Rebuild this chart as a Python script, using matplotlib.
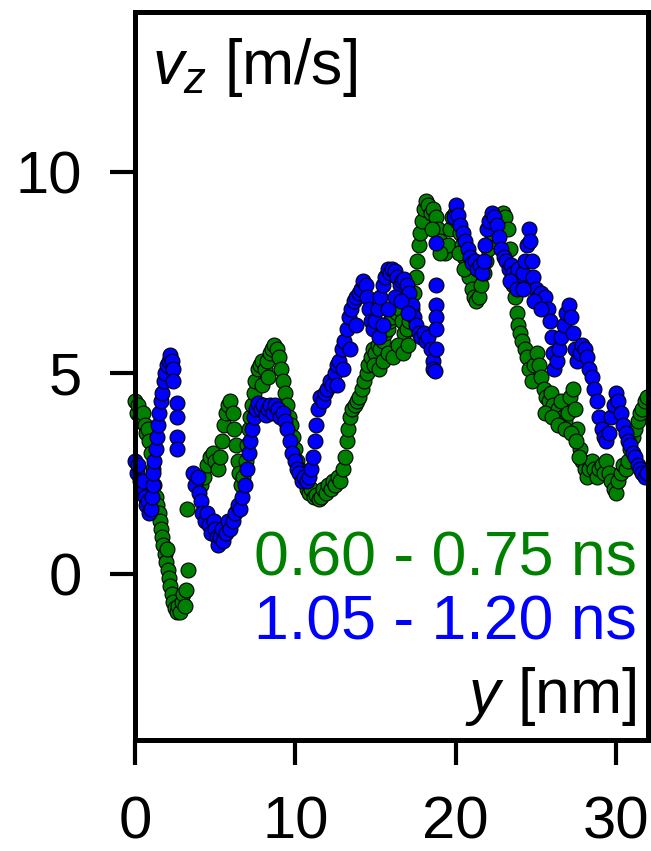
import matplotlib
matplotlib.use("Agg")
import matplotlib.pyplot as plt

plt.rcParams['font.family'] = ['Liberation Sans', 'DejaVu Sans']
plt.rcParams['mathtext.fontset'] = 'custom'
plt.rcParams['mathtext.rm'] = 'Liberation Sans'
plt.rcParams['mathtext.it'] = 'Liberation Sans:italic'

# 0.60 - 0.75 ns (green): position y [nm], velocity v_z [m/s]
green_y = [0.0, 0.1, 0.2, 0.3, 0.4, 0.5, 0.6, 0.7, 0.8, 0.9, 1.0, 1.1, 1.2, 1.3, 1.4, 1.5, 1.55, 1.6,
           1.7, 1.75, 1.85, 1.95, 2.0, 2.05, 2.15, 2.2, 2.3, 2.4, 2.5, 2.6, 2.7, 2.8, 2.9, 3.0, 3.1,
           3.2, 3.3, 3.25,
           4.1, 4.3, 4.5, 4.7, 4.85, 5.0, 5.15, 5.3, 5.45, 5.55, 5.65, 5.8, 5.95, 6.1, 6.2, 6.3, 6.4,
           6.5, 6.6, 6.75, 6.9, 7.0, 7.1, 7.2, 7.3, 7.4, 7.5, 7.65, 7.8, 7.95, 8.1, 8.25, 8.4, 8.55,
           8.7, 8.85, 9.0, 9.1, 9.2, 9.35, 9.5, 9.6, 9.7, 9.85, 10.0, 10.1, 10.25, 10.4, 10.55, 10.7,
           10.85, 11.0, 11.15, 11.3, 11.45, 11.6, 11.75, 11.9, 12.05, 12.2, 12.35, 12.5, 12.65, 12.8,
           12.95, 13.1, 13.2, 13.3, 13.4, 13.55, 13.7, 13.85, 14.0, 14.15, 14.3, 14.45, 14.55, 14.7,
           14.85, 15.0, 15.15, 15.3, 15.45, 15.6, 15.75, 15.9, 16.05, 16.2, 16.35, 16.5, 16.65, 16.8,
           16.95, 17.1, 17.25, 17.4, 17.5, 17.6, 17.7, 17.8, 17.9, 18.0, 18.15, 18.3, 18.45, 18.6,
           18.75, 18.9, 19.05, 19.2, 19.35, 19.5, 19.65, 19.8, 19.95, 20.1, 20.25, 20.4, 20.55, 20.7,
           20.85, 21.0, 21.15, 21.3, 21.45, 21.6, 21.75, 21.9, 22.05, 22.2, 22.35, 22.5, 22.65, 22.8,
           22.95, 23.1, 23.25, 23.4, 23.5, 23.6, 23.7, 23.8, 23.9, 24.0, 24.15, 24.3, 24.45, 24.6,
           24.75, 24.9, 25.05, 25.2, 25.35, 25.5, 25.65, 25.8, 25.95, 26.1, 26.25, 26.4, 26.55, 26.7,
           26.85, 27.0, 27.15, 27.3, 27.45, 27.6, 27.75, 27.9, 28.05, 28.2, 28.35, 28.5, 28.65, 28.8,
           28.95, 29.1, 29.25, 29.4, 29.55, 29.7, 29.85, 30.0, 30.15, 30.3, 30.45, 30.6, 30.75, 30.9,
           31.05, 31.2, 31.35, 31.5, 31.65, 31.8, 31.95,
           14.9, 15.2, 15.5, 15.8, 16.1, 16.4, 16.7, 17.0, 18.5, 19.0, 20.2, 20.5,
           25.6, 26.0, 26.4, 26.8, 27.2, 27.5, 27.7, 7.9, 8.3]
green_vz = [4.3, 4.0, 4.2, 3.9, 3.8, 4.0, 3.7, 3.5, 3.6, 3.3, 3.0, 2.6, 2.2, 1.9, 1.7, 1.5, 1.3, 1.1,
            0.9, 0.7, 0.5, 0.3, 0.6, 0.1, -0.1, -0.3, -0.5, -0.7, -0.85, -0.95, -0.8, -0.95, -0.7,
            -0.5, -0.8, -0.4, 0.1, 1.6,
            2.2, 2.4, 2.7, 2.9, 3.0, 2.8, 2.6, 2.9, 3.3, 3.7, 4.0, 4.2, 4.3, 4.0, 3.6, 3.2, 2.8,
            2.5, 2.2, 2.4, 2.8, 3.2, 3.6, 3.9, 4.2, 4.5, 4.8, 5.1, 5.2, 5.3, 5.1, 5.3, 5.5, 5.6,
            5.7, 5.6, 5.4, 5.1, 4.8, 4.5, 4.2, 3.9, 3.7, 3.4, 3.1, 2.8, 2.6, 2.4, 2.3, 2.1,
            2.0, 2.1, 1.9, 1.95, 1.85, 1.9, 2.1, 2.0, 2.2, 2.1, 2.3, 2.2, 2.4, 2.3,
            2.6, 2.9, 3.3, 3.6, 3.9, 4.1, 4.2, 4.3, 4.4, 4.6, 4.8, 5.0, 5.2, 5.4,
            5.6, 5.5, 5.7, 5.6, 5.8, 6.0, 6.1, 6.3, 6.4, 6.6, 6.5, 6.6, 6.3, 6.0,
            6.1, 6.3, 6.6, 7.0, 7.4, 7.8, 8.2, 8.5, 8.8, 9.1, 9.3, 9.2, 9.0, 9.1,
            8.9, 8.6, 8.3, 8.1, 8.0, 8.2, 8.6, 8.9, 9.0, 8.8, 8.5, 8.2, 7.9, 7.6,
            7.4, 7.1, 6.9, 6.8, 6.9, 7.2, 7.5, 7.8, 8.1, 8.3, 8.5, 8.7, 8.8, 8.9,
            9.0, 8.9, 8.6, 8.1, 7.6, 7.2, 6.9, 6.5, 6.2, 6.0, 5.8, 5.6, 5.4, 5.1,
            4.8, 5.2, 5.5, 5.2, 4.9, 4.6, 4.4, 4.3, 4.5, 4.2, 4.0, 4.1, 4.3, 3.9,
            3.8, 4.0, 4.4, 4.6, 4.1, 3.6, 3.1, 2.8, 2.6, 2.4, 2.6, 2.8, 2.6, 2.4,
            2.6, 2.7, 2.5, 2.8, 2.5, 2.3, 2.1, 2.0, 2.3, 2.5, 2.7, 2.6, 2.8, 3.1,
            3.4, 3.6, 3.8, 4.0, 4.1, 4.3, 4.4,
            5.2, 5.1, 5.3, 5.5, 5.4, 5.7, 5.5, 5.7, 8.6, 8.0, 8.0, 7.6,
            4.0, 3.9, 3.7, 3.6, 3.5, 3.3, 2.9, 4.7, 4.9]

# 1.05 - 1.20 ns (blue)
blue_y = [0.0, 0.1, 0.2, 0.3, 0.4, 0.5, 0.6, 0.7, 0.8, 0.9, 1.0, 1.05, 1.1, 1.15, 1.2, 1.3, 1.35,
          1.45, 1.5, 1.6, 1.7, 1.8, 1.9, 2.0, 2.1, 2.2, 2.3, 2.35, 2.4, 2.6, 2.6, 2.6, 2.6,
          3.6, 3.75, 3.9, 4.0, 4.1, 4.2, 4.35, 4.5, 4.6, 4.75, 4.9, 5.0, 5.1, 5.2, 5.3, 5.4, 5.5,
          5.65, 5.8, 5.95, 6.1, 6.25, 6.4, 6.55, 6.7, 6.85, 7.0, 7.1, 7.2, 7.3, 7.4, 7.55, 7.7,
          7.85, 8.0, 8.15, 8.3, 8.45, 8.6, 8.75, 8.9, 9.05, 9.2, 9.35, 9.5, 9.65, 9.8, 9.95, 10.1,
          10.25, 10.4, 10.55, 10.7, 10.85, 11.0, 11.1, 11.2, 11.3, 11.4, 11.55, 11.7, 11.85, 12.0,
          12.15, 12.3, 12.45, 12.6, 12.75, 12.9, 13.05, 13.2, 13.35, 13.5, 13.65, 13.8, 13.95,
          14.1, 14.25, 14.4, 14.5, 14.6, 14.7, 14.85, 15.0, 15.15, 15.3, 15.45, 15.6, 15.75, 15.9,
          16.05, 16.2, 16.35, 16.5, 16.65, 16.8, 16.95, 17.1, 17.25, 17.4, 17.55, 17.7, 17.85,
          18.0, 18.15, 18.3, 18.45, 18.6, 18.6,
          18.8, 18.8, 18.8, 18.8, 18.8, 18.75, 18.7,
          19.9, 20.05, 20.15, 20.3, 20.45, 20.6, 20.75, 20.9, 21.05, 21.2, 21.35, 21.5, 21.65,
          21.75, 21.85, 21.95, 22.1, 22.25, 22.4, 22.55, 22.7, 22.85, 23.0, 23.15, 23.3, 23.45,
          23.6, 23.75, 23.9, 24.05, 24.2, 24.35, 24.45, 24.55, 24.65, 24.75, 24.85, 25.0, 25.15,
          25.3, 25.45, 25.6, 25.75, 25.9, 26.0, 26.05, 26.15, 26.3, 26.45, 26.6, 26.75, 26.9,
          27.05, 27.2, 27.3, 27.45, 27.6, 27.75, 27.9, 28.05, 28.2, 28.35, 28.5, 28.65, 28.8,
          28.95, 29.1, 29.25, 29.4, 29.55, 29.7, 29.85, 30.0, 30.15, 30.3, 30.45, 30.6, 30.75,
          30.9, 31.05, 31.2, 31.35, 31.5, 31.65, 31.8, 31.95,
          15.2, 15.5, 15.8, 16.2, 16.6, 17.0, 12.6, 13.0, 13.4, 13.8,
          23.4, 23.8, 24.2, 24.9, 25.3]
blue_vz = [2.8, 2.5, 2.7, 2.3, 2.1, 2.3, 1.9, 1.7, 1.8, 1.5, 1.6, 1.9, 2.2, 2.5, 2.8, 3.1, 3.4,
           3.7, 4.0, 4.3, 4.5, 4.8, 5.0, 5.2, 5.3, 5.45, 5.3, 5.1, 4.8, 4.25, 3.9, 3.4, 3.1,
           2.5, 2.2, 2.4, 2.0, 1.8, 1.5, 1.3, 1.5, 1.2, 1.0, 1.3, 1.1, 0.9, 0.7, 0.9, 1.1, 0.8,
           1.0, 1.3, 1.1, 1.3, 1.5, 1.7, 1.6, 1.9, 2.2, 2.6, 3.0, 3.3, 3.6, 3.9, 4.1, 4.25,
           4.1, 4.2, 3.95, 4.1, 4.2, 4.0, 4.2, 4.1, 3.9, 4.0, 3.8, 3.6, 3.3, 3.0, 2.8, 2.6,
           2.5, 2.3, 2.4, 2.3, 2.4, 2.6, 2.9, 3.3, 3.7, 4.1, 4.4, 4.3, 4.5, 4.6,
           4.8, 4.7, 5.0, 5.2, 5.3, 5.6, 5.8, 6.1, 6.4, 6.6, 6.8, 6.9, 7.0,
           7.1, 7.3, 7.2, 6.9, 6.6, 6.3, 6.1, 6.3, 6.6, 6.9, 7.2, 7.4, 7.6, 7.5,
           7.6, 7.55, 7.4, 7.2, 7.3, 7.35, 7.2, 7.0, 6.7, 6.4, 6.2, 6.0, 5.9,
           6.0, 5.8, 5.9, 5.6, 5.3, 5.1,
           8.25, 7.2, 6.7, 6.4, 6.1, 5.6, 5.05,
           8.9, 9.2, 8.95, 8.7, 8.5, 8.3, 8.1, 7.9, 7.75, 7.8, 7.6, 7.7, 7.5,
           7.8, 8.2, 8.6, 8.8, 9.0, 8.9, 8.7, 8.4, 8.1, 7.9, 7.8, 7.6, 7.7,
           7.5, 7.4, 7.6, 7.3, 7.5, 7.8, 8.2, 8.6, 8.3, 7.8, 7.4, 7.1, 6.9,
           7.0, 6.8, 6.9, 6.6, 6.3, 5.9, 5.5, 5.1, 5.3, 5.6, 5.9, 6.2, 6.5,
           6.7, 6.4, 6.0, 5.6, 5.3, 5.5, 5.7, 5.6, 5.4, 5.1, 4.9, 4.6, 4.3,
           3.9, 3.6, 3.4, 3.3, 3.5, 3.9, 4.2, 4.5, 4.3, 4.0, 3.7, 3.5, 3.3,
           3.2, 3.0, 2.9, 2.7, 2.6, 2.5, 2.4, 2.5,
           5.9, 6.2, 6.6, 6.9, 6.8, 6.5, 4.7, 5.1, 5.6, 6.2,
           7.3, 7.1, 7.1, 6.8, 6.6]

x_ticks = [0, 10, 20, 30]
y_ticks = [0, 5, 10]
green_label = "0.60 - 0.75 ns"
blue_label = "1.05 - 1.20 ns"

fig = plt.figure(figsize=(6.51, 8.51), dpi=100)
ax = fig.add_axes([0.2074, 0.1304, 0.788, 0.8555])

ax.scatter(green_y, green_vz, s=115, c='#008000', edgecolors='black', linewidths=0.8,
           clip_on=False, zorder=2)
ax.scatter(blue_y, blue_vz, s=115, c='#0000ff', edgecolors='black', linewidths=0.8,
           clip_on=False, zorder=2)

ax.set_xlim(0, 32)
ax.set_ylim(-4.15, 14)
ax.set_xticks(x_ticks)
ax.set_yticks(y_ticks)

for sp in ax.spines.values():
    sp.set_linewidth(3.6)
    sp.set_zorder(3)
ax.tick_params(axis='both', direction='out', length=18, width=3, labelsize=43)
ax.tick_params(axis='x', pad=22)
ax.tick_params(axis='y', pad=20)

ax.text(0.033, 0.901, r'$v_z$ [m/s]', transform=ax.transAxes, fontsize=45,
        ha='left', va='baseline')
ax.text(0.9766, 0.037, r'$y$ [nm]', transform=ax.transAxes, fontsize=45,
        ha='right', va='baseline')
ax.text(0.9786, 0.2266, green_label, transform=ax.transAxes, fontsize=45,
        ha='right', va='baseline', color='#008000')
ax.text(0.9786, 0.1374, blue_label, transform=ax.transAxes, fontsize=45,
        ha='right', va='baseline', color='#0000ff')

fig.savefig('out.png', dpi=100)
